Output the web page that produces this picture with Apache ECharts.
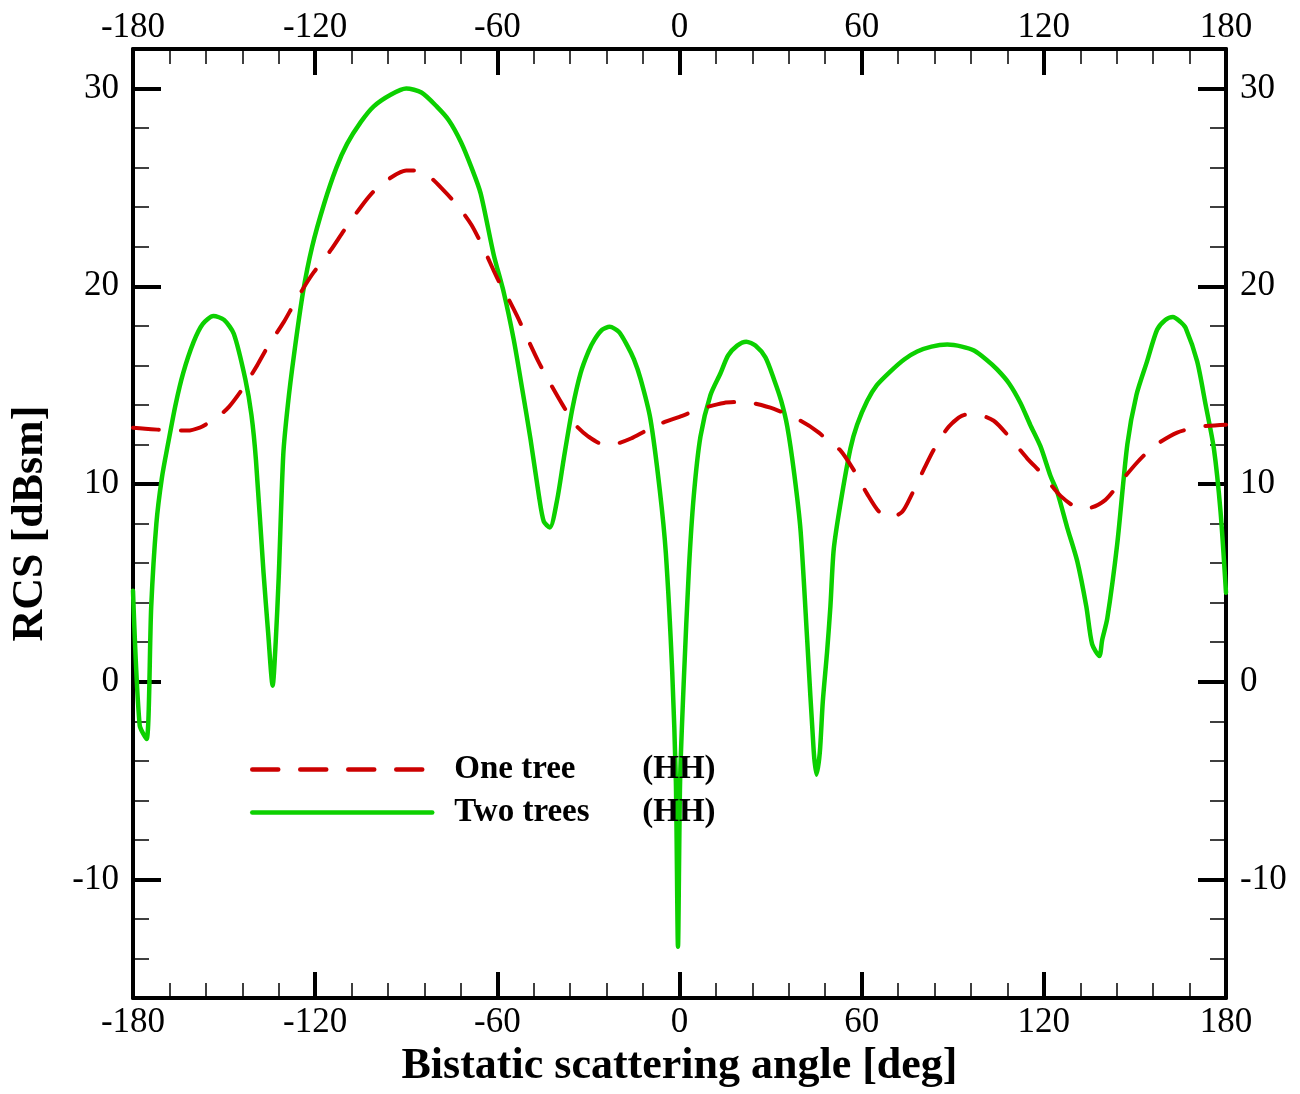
<!DOCTYPE html>
<html>
<head>
<meta charset="utf-8">
<script src="https://cdn.jsdelivr.net/npm/echarts@6/dist/echarts.min.js"></script>
<style>html,body{margin:0;padding:0;background:#fff}#c{width:1300px;height:1094px}</style>
</head>
<body>
<div id="c"></div>
<script>
// Data (angle in deg, RCS in dBsm)
const twoTreesAngle = [-180,-177.8,-175.5,-174,-172.3,-170.5,-168.5,-166,-163.5,-160,-157,-153.5,-150,-146.8,-143,-141,-139.5,-137,-135.5,-134,-133,-132,-130.5,-129,-127,-124,-121,-117,-113,-109.5,-105,-100.7,-95,-90,-85,-80,-76,-72,-68.5,-65.5,-61.2,-57.9,-54.6,-51.8,-49.1,-46.3,-44.7,-42.7,-40.3,-38.1,-35.3,-32.6,-30,-28,-25.5,-23,-20,-17.2,-15,-12.8,-9.6,-6.5,-4.5,-2.4,-1.2,-0.5,0.2,1.4,3.1,4.7,6.9,10.2,13.5,16,19,22,25,28.3,31.1,33.5,35.5,37.8,39.9,42.1,44.2,45.1,46.2,47.2,48.6,49.7,50.8,53,56.3,58.5,61.8,65,69.5,74,78.3,83,88.2,93,97,101,104.6,108.5,112.3,115.5,118.9,122.2,124.4,127.7,131,134,135.9,138.3,139.2,140.9,144.2,147.5,150.5,154,157.3,160,162.5,165,166.7,170.5,173.3,176,178.2,180];
const twoTreesRCS = [4.6,-2.2,-2.9,3.8,8.0,10.3,12.0,14.0,15.6,17.2,18.1,18.5,18.3,17.6,15.3,13.5,11.2,5.5,2.5,-0.2,2.0,5.3,11.5,14.0,16.5,19.7,22.0,24.2,26.0,27.2,28.3,29.1,29.7,30.0,29.8,29.1,28.4,27.3,26.0,24.7,21.6,19.7,17.3,14.8,12.3,9.4,8.1,7.8,9.2,11.3,13.8,15.6,16.7,17.3,17.8,17.95,17.7,17.0,16.3,15.3,13.3,9.7,6.5,0.5,-5.0,-13.4,-5.0,0.0,5.7,9.4,12.4,14.5,15.6,16.5,17.0,17.2,17.0,16.4,15.3,14.2,12.9,10.5,7.6,2.0,-3.5,-4.7,-3.6,-1.0,1.5,3.8,6.7,9.0,11.8,13.0,14.2,15.0,15.7,16.3,16.7,16.95,17.05,16.95,16.75,16.3,15.8,15.1,14.1,13.0,11.9,10.4,9.6,7.8,6.1,3.8,1.9,1.3,2.1,3.2,7.0,12.0,14.5,16.2,17.8,18.3,18.45,18.2,17.9,16.2,14.0,11.8,8.6,4.5];

const oneTreeAngle = [-180,-176,-172,-168,-162,-158,-155.6,-152,-148.4,-144,-139.1,-135.8,-130.3,-127,-123.5,-120.5,-115,-110.6,-105,-100.7,-95,-90,-86.4,-82,-78,-73.2,-68.5,-64.5,-60,-56.8,-53.5,-50.2,-46.5,-43,-38.5,-34.3,-30,-25,-20.5,-16,-11,-5.5,0,6.9,14.6,20,23.9,31.1,39.9,45.9,50,53,57.4,61.8,65.7,69.5,73.4,76.6,80.5,83.8,88.7,94.2,98,103.5,108.5,114.5,119.5,125.5,131.5,135,140.3,144.7,150.8,156.2,163.9,171.6,180];
const oneTreeRCS = [12.85,12.8,12.75,12.7,12.7,12.85,13.05,13.4,13.9,14.8,16.0,16.9,18.2,19.1,20.0,20.7,21.8,22.8,24.0,24.8,25.5,25.85,25.85,25.5,24.9,24.1,23.1,21.9,20.4,19.5,18.5,17.4,16.2,15.2,14.0,13.0,12.4,12.0,12.05,12.3,12.7,13.1,13.4,13.8,14.1,14.15,14.1,13.8,13.2,12.6,12.0,11.7,10.7,9.5,8.6,8.3,8.6,9.5,10.75,11.75,12.9,13.5,13.5,13.2,12.4,11.3,10.5,9.4,8.8,8.8,9.2,10.0,11.1,11.9,12.6,12.9,13.0];

const xTicks = [-180,-120,-60,0,60,120,180];
const yMajorTicks = [-10,0,10,20,30];
const yMinorTicks = [-14,-12,-8,-6,-4,-2,2,4,6,8,12,14,16,18,22,24,26,28,32];

const seriesNames = ['One tree (HH)','Two trees (HH)'];

const pairs = (xs, ys) => xs.map((x,i)=>[x, ys[i]]);

const FONT = 'Liberation Serif';
const labelStyle = {fontFamily: FONT, fontSize: 35, color: '#000'};

function xAx(pos, showName){
  return {
    type:'value', position:pos, min:-180, max:180, interval:60,
    axisLine:{show:true, onZero:false, lineStyle:{color:'#000', width:4}},
    axisTick:{show:true, inside:true, length:26, lineStyle:{color:'#000', width:4}},
    minorTick:{show:true, splitNumber:5, length:15, lineStyle:{color:'#000', width:1.5}},
    axisLabel:Object.assign({margin: pos === 'top' ? 4 : 7, customValues:xTicks}, labelStyle),
    splitLine:{show:false}, minorSplitLine:{show:false},
    name: showName ? 'Bistatic scattering angle [deg]' : '',
    nameLocation:'middle', nameGap:42,
    nameTextStyle:{fontFamily:FONT, fontSize:44, fontWeight:'bold', color:'#000'}
  };
}
function yAxMinor(pos, showName){
  return {
    type:'value', position:pos, min:-16, max:32,
    axisLine:{show:true, onZero:false, lineStyle:{color:'#000', width:4}},
    axisTick:{show:true, inside:true, length:16, customValues:yMinorTicks, lineStyle:{color:'#000', width:1.5}},
    axisLabel:Object.assign({margin:14, customValues:yMajorTicks}, labelStyle),
    splitLine:{show:false},
    name: showName ? 'RCS [dBsm]' : '',
    nameLocation:'middle', nameGap:80,
    nameTextStyle:{fontFamily:FONT, fontSize:44, fontWeight:'bold', color:'#000'}
  };
}
function yAxMajor(pos){
  return {
    type:'value', position:pos, min:-16, max:32,
    axisLine:{show:false, onZero:false},
    axisTick:{show:true, inside:true, length:28, customValues:yMajorTicks, lineStyle:{color:'#000', width:4}},
    axisLabel:{show:false},
    splitLine:{show:false}
  };
}

const chart = echarts.init(document.getElementById('c'), null, {renderer:'canvas'});
chart.setOption({
  backgroundColor:'#fff',
  animation:false,
  grid:{left:133, right:74, top:49, bottom:92, containLabel:false},
  xAxis:[xAx('bottom', true), xAx('top', false)],
  yAxis:[yAxMinor('left', true), yAxMajor('left'), yAxMinor('right', false), yAxMajor('right')],
  legend:{
    data: seriesNames,
    orient:'vertical', left:245, top:748,
    itemWidth:180, itemHeight:14, itemGap:10,
    itemStyle:{opacity:0},
    lineStyle:{width:4.5, cap:'round'},
    textStyle:{fontFamily:FONT, fontSize:33, fontWeight:'bold', color:'#000', lineHeight:33,
      rich:{a:{fontFamily:FONT, fontSize:33, fontWeight:'bold', color:'#000', width:188, padding:[0,0,0,17]},
            b:{fontFamily:FONT, fontSize:33, fontWeight:'bold', color:'#000'}}},
    formatter: function(name){
      const k = name.indexOf(' (');
      return '{a|' + name.slice(0,k) + '}{b|' + name.slice(k+1) + '}';
    }
  },
  series:[
    {
      name: seriesNames[1], type:'line', xAxisIndex:0, yAxisIndex:0,
      data: pairs(twoTreesAngle, twoTreesRCS),
      showSymbol:false, symbol:'none', smooth:0.25, clip:true,
      lineStyle:{color:'#0cd000', width:4.5, cap:'round', join:'round'},
      itemStyle:{color:'#0cd000'}, z:2
    },
    {
      name: seriesNames[0], type:'line', xAxisIndex:0, yAxisIndex:0,
      data: pairs(oneTreeAngle, oneTreeRCS),
      showSymbol:false, symbol:'none', smooth:0.25, clip:true,
      lineStyle:{color:'#cc0000', width:4, type:[26,22], cap:'round', join:'round'},
      itemStyle:{color:'#cc0000'}, z:3
    }
  ]
});
</script>
</body>
</html>
